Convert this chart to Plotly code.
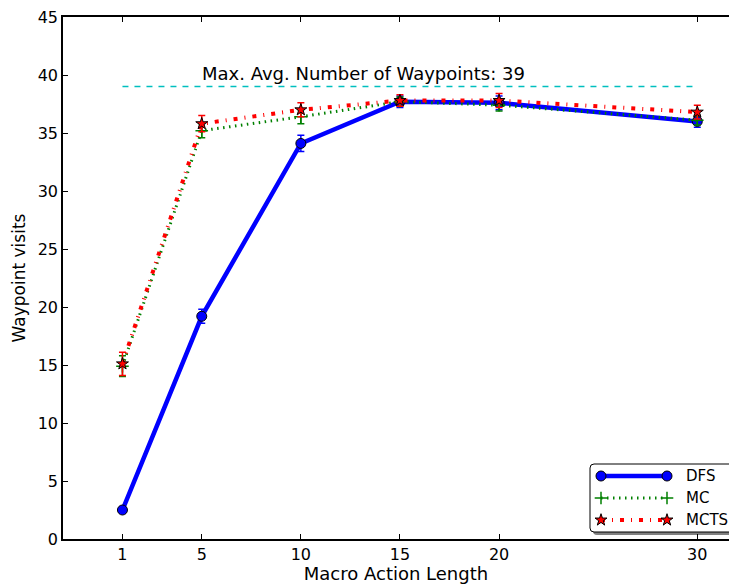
import plotly.graph_objects as go

x_vals = [1, 5, 10, 15, 20, 30]
dfs = [2.5, 19.2, 34.1, 37.7, 37.6, 36.0]
dfs_err = [0.2, 0.6, 0.7, 0.5, 0.6, 0.5]
mc = [14.9, 35.2, 36.4, 37.7, 37.4, 36.1]
mc_err = [0.9, 0.6, 0.6, 0.4, 0.5, 0.4]
mcts = [15.1, 35.8, 37.0, 37.8, 37.8, 36.8]
mcts_err = [1.0, 0.7, 0.6, 0.5, 0.6, 0.6]
max_avg = 39
x_ticks = [1, 5, 10, 15, 20, 30]
y_ticks = [0, 5, 10, 15, 20, 25, 30, 35, 40, 45]
series_names = ["DFS", "MC", "MCTS"]

FONT = "DejaVu Sans"

W, H = 729, 584
ML, MR, MT, MB = 63, 0, 17, 45
PL, PR, PT, PB = ML, W - MR, MT, H - MB

styles = {
    "DFS": dict(line=dict(color="#0000ff", width=4.5),
                marker=dict(symbol="circle", size=10, color="#0000ff",
                            line=dict(color="black", width=1))),
    "MC": dict(line=dict(color="#008000", width=3, dash="1.5px,4.5px"),
               marker=dict(symbol="cross-thin", size=9, color="#008000",
                           line=dict(color="#008000", width=1.5))),
    "MCTS": dict(line=dict(color="#ff0000", width=4, dash="4px,7px,1px,7px"),
                 marker=dict(symbol="star", size=9, color="#ff0000",
                             line=dict(color="black", width=1))),
}

fig = go.Figure()

fig.add_trace(go.Scatter(
    x=[x_vals[0], x_vals[-1]], y=[max_avg, max_avg], mode="lines",
    line=dict(color="#00bfbf", width=1.5, dash="6px,6px"),
    showlegend=False, hoverinfo="skip"))

for name, ys, errs in [("DFS", dfs, dfs_err), ("MC", mc, mc_err), ("MCTS", mcts, mcts_err)]:
    st = styles[name]
    fig.add_trace(go.Scatter(
        x=x_vals, y=ys, name=name, mode="lines+markers",
        line=st["line"], marker=st["marker"], showlegend=False,
        error_y=dict(type="data", array=errs, color=st["line"]["color"],
                     thickness=1.5, width=3.5)))

fig.add_annotation(
    x=x_vals[1], y=max_avg, xref="x", yref="y", xanchor="left", yanchor="bottom",
    text="Max. Avg. Number of Waypoints: 39", showarrow=False, yshift=1, xshift=-2,
    font=dict(family=FONT, size=18, color="black"))

# ---- custom legend drawn on a pixel-space overlay axis ----
bx0, bx1, by0, by1, r = 590, 753, 464, 532, 4
def rrect(x0, y0, x1, y1, r):
    return (f"M{x0+r},{y0} L{x1-r},{y0} Q{x1},{y0} {x1},{y0+r} L{x1},{y1-r} "
            f"Q{x1},{y1} {x1-r},{y1} L{x0+r},{y1} Q{x0},{y1} {x0},{y1-r} "
            f"L{x0},{y0+r} Q{x0},{y0} {x0+r},{y0} Z")

fig.add_shape(type="path", xref="x2", yref="y2", path=rrect(bx0 + 3, by0 + 3, bx1 + 3, by1 + 3, r),
              fillcolor="#808080", line=dict(width=0), layer="below")
fig.add_shape(type="path", xref="x2", yref="y2", path=rrect(bx0, by0, bx1, by1, r),
              fillcolor="white", line=dict(color="black", width=1), layer="below")

row_y = [476, 498, 520]
for name, ry in zip(series_names, row_y):
    st = styles[name]
    fig.add_trace(go.Scatter(
        x=[601, 667], y=[ry, ry], xaxis="x2", yaxis="y2", mode="lines+markers",
        line=st["line"], marker=st["marker"], showlegend=False, hoverinfo="skip"))
    fig.add_annotation(x=684, y=ry, xref="x2", yref="y2", xanchor="left", yanchor="middle",
                       text=name, showarrow=False, font=dict(family=FONT, size=15, color="black"))

fig.update_layout(
    width=W, height=H,
    margin=dict(l=ML, r=MR, t=MT, b=MB, autoexpand=False),
    paper_bgcolor="white", plot_bgcolor="white",
    font=dict(family=FONT, size=15, color="black"),
    showlegend=False,
    xaxis=dict(
        range=[-2, 31.6], tickvals=x_ticks, ticktext=[str(v) for v in x_ticks],
        ticks="inside", ticklen=5, tickwidth=1, tickcolor="black",
        showline=True, linecolor="black", linewidth=1.5, mirror="ticks",
        showgrid=False, zeroline=False,
        title=dict(text="Macro Action Length", standoff=1, font=dict(size=18)),
        tickfont=dict(size=16)),
    yaxis=dict(
        range=[0, 45], tickvals=y_ticks,
        ticks="inside", ticklen=5, tickwidth=1, tickcolor="black",
        showline=True, linecolor="black", linewidth=1.5, mirror=False,
        showgrid=False, zeroline=False, ticklabeloverflow="allow",
        title=dict(text="Waypoint visits", standoff=8, font=dict(size=17)),
        tickfont=dict(size=16)),
    xaxis2=dict(range=[PL, PR], overlaying="x", visible=False, domain=[0, 1], showline=False),
    yaxis2=dict(range=[PB, PT], overlaying="y", visible=False, domain=[0, 1], showline=False),
)

fig.write_html(
    "out.html",
    config={"displayModeBar": False},
    post_script="document.body.style.margin='0';document.body.style.overflow='hidden';"
                "document.documentElement.style.overflow='hidden';")
